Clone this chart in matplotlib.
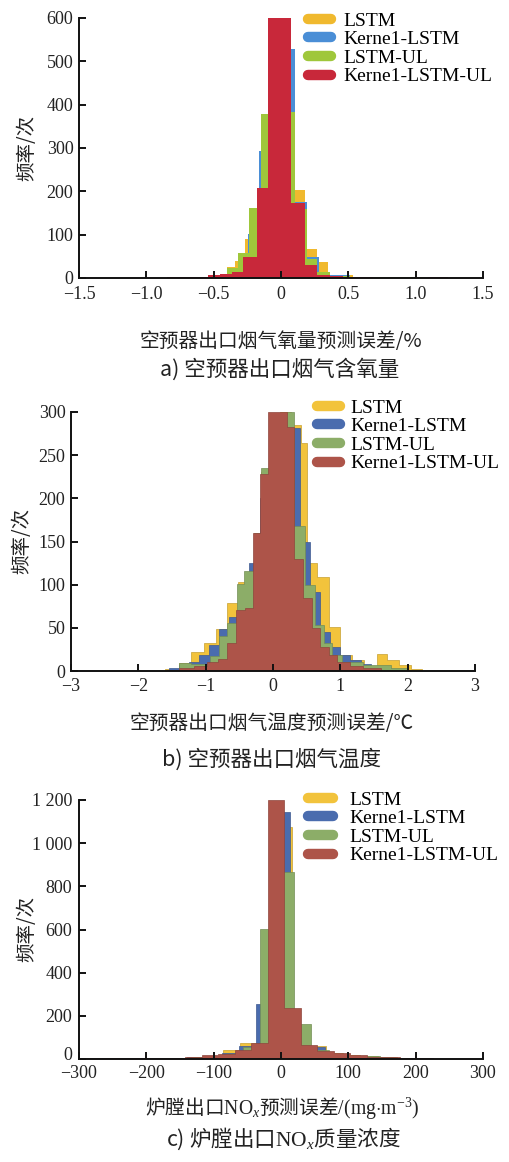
import matplotlib
matplotlib.use('Agg')
import matplotlib.pyplot as plt
import matplotlib.colors as mcolors
import matplotlib.transforms as mtransforms
from matplotlib.lines import Line2D

plt.rcParams['font.family'] = ['Liberation Serif', 'Noto Sans CJK SC']
plt.rcParams['mathtext.fontset'] = 'custom'
plt.rcParams['mathtext.rm'] = 'Liberation Serif'
plt.rcParams['mathtext.it'] = 'Liberation Serif:italic'
plt.rcParams['axes.unicode_minus'] = True

# ---------------- data ----------------
series_names = ['LSTM', 'Kerne1-LSTM', 'LSTM-UL', 'Kerne1-LSTM-UL']

# panel a: O2 prediction error (%)
a_lstm_edges = [-0.85, -0.65, -0.48, -0.40, -0.34, -0.27, -0.18, -0.094, -0.007, 0.072, 0.178, 0.265, 0.351, 0.438, 0.537, 0.686, 0.983, 1.243]
a_lstm_counts = [2, 3, 8, 25, 40, 90, 200, 590, 590, 204, 68, 37, 8, 8, 3, 2, 2]
a_klstm_edges = [-0.85, -0.478, -0.403, -0.322, -0.243, -0.161, -0.094, -0.007, 0.104, 0.191, 0.285, 0.364, 0.512, 0.686, 1.243]
a_klstm_counts = [2, 8, 20, 40, 102, 294, 573, 529, 176, 49, 15, 8, 3, 2]
a_lstmul_edges = [-0.85, -0.478, -0.403, -0.322, -0.235, -0.149, -0.022, 0.104, 0.191, 0.265, 0.364, 0.512, 1.243]
a_lstmul_counts = [2, 8, 22, 58, 162, 379, 382, 160, 45, 14, 5, 2]
a_klstmul_edges = [-0.849, -0.540, -0.453, -0.366, -0.280, -0.181, -0.094, -0.007, 0.072, 0.178, 0.265, 0.364, 0.463, 0.686, 1.094, 1.243]
a_klstmul_counts = [2, 8, 10, 14, 49, 208, 600, 600, 173, 29, 8, 4, 2, 0, 3]

# panel b: flue gas temperature prediction error (C)
b_lstm_edges = [-1.60, -1.40, -1.22, -1.03, -0.85, -0.68, -0.52, -0.36, -0.18, -0.05, 0.11, 0.26, 0.41, 0.51, 0.66, 0.83, 1.00, 1.18, 1.35, 1.55, 1.70, 1.87, 2.05, 2.22]
b_lstm_counts = [2, 9, 22, 32, 49, 79, 103, 115, 230, 290, 300, 285, 264, 125, 109, 51, 18, 13, 4, 20, 13, 7, 2]
b_klstm_edges = [-1.55, -1.40, -1.25, -1.10, -0.95, -0.80, -0.65, -0.50, -0.35, -0.20, -0.05, 0.10, 0.25, 0.40, 0.55, 0.70, 0.85, 1.00, 1.15, 1.30, 1.45, 1.60, 1.75, 1.90]
b_klstm_counts = [3, 7, 10, 18, 30, 49, 62, 100, 125, 200, 290, 295, 281, 149, 92, 45, 28, 18, 13, 8, 6, 4, 2]
b_lstmul_edges = [-1.40, -1.22, -0.93, -0.80, -0.68, -0.53, -0.43, -0.28, -0.18, -0.05, 0.08, 0.21, 0.31, 0.475, 0.62, 0.757, 0.881, 1.03, 1.33, 1.60, 1.75, 2.00]
b_lstmul_counts = [9, 8, 17, 40, 56, 101, 116, 160, 235, 295, 298, 300, 168, 100, 53, 32, 18, 11, 7, 7, 4]
b_klstmul_edges = [-1.58, -1.40, -1.17, -0.975, -0.82, -0.68, -0.55, -0.42, -0.30, -0.19, -0.07, 0.07, 0.21, 0.31, 0.45, 0.58, 0.70, 0.83, 0.955, 1.15, 1.33, 1.60]
b_klstmul_counts = [1, 4, 6, 11, 14, 33, 71, 73, 160, 228, 300, 300, 283, 130, 85, 50, 28, 18, 10, 6, 3]

# panel c: NOx prediction error (mg/m3)
c_lstm_edges = [-290, -264.5, -239, -213.5, -188, -162.5, -137, -111.5, -86, -60.5, -35, -9.5, 16, 41.5, 67, 92.5, 118, 143.5, 169, 194.5, 220]
c_lstm_counts = [2, 3, 3, 3, 4, 6, 9, 15, 42, 76, 250, 1076, 158, 60, 28, 18, 12, 8, 5, 3]
c_klstm_edges = [-292, -266.5, -241, -215.5, -190, -164.5, -139, -113.5, -88, -62.5, -37, -11.5, 14, 39.5, 65, 90.5, 116, 141.5, 167, 192.5, 218]
c_klstm_counts = [2, 4, 4, 3, 4, 6, 9, 14, 30, 60, 253, 1143, 142, 57, 25, 15, 10, 7, 5, 3]
c_lstmul_edges = [-285, -259.6, -234.2, -208.8, -183.4, -158, -132.6, -107.2, -81.8, -56.4, -31, -5.6, 19.8, 45.2, 70.6, 96, 121.4, 146.8, 172.2, 197.6, 223]
c_lstmul_counts = [2, 3, 3, 3, 4, 5, 8, 13, 25, 57, 601, 868, 160, 42, 22, 14, 14, 8, 5, 3]
c_klstmul_edges = [-314, -289.5, -265, -240.5, -216, -191.5, -167, -142.5, -118, -93.5, -69, -44.5, -20, 4.5, 29, 53.5, 78, 102.5, 127, 151.5, 176, 200.5, 225]
c_klstmul_counts = [5, 5, 3, 3, 3, 5, 6, 11, 18, 23, 42, 73, 1200, 235, 65, 37, 26, 18, 11, 8, 6, 5]

a_xticks = [-1.5, -1.0, -0.5, 0, 0.5, 1.0, 1.5]
a_xticklabels = ['\u22121.5', '\u22121.0', '\u22120.5', '0', '0.5', '1.0', '1.5']
a_yticks = [0, 100, 200, 300, 400, 500, 600]
b_xticks = [-3, -2, -1, 0, 1, 2, 3]
b_xticklabels = ['\u22123', '\u22122', '\u22121', '0', '1', '2', '3']
b_yticks = [0, 50, 100, 150, 200, 250, 300]
c_xticks = [-300, -200, -100, 0, 100, 200, 300]
c_xticklabels = ['\u2212300', '\u2212200', '\u2212100', '0', '100', '200', '300']
c_yticks = [0, 200, 400, 600, 800, 1000, 1200]
c_yticklabels = ['0', '200', '400', '600', '800', '1 000', '1 200']

ylabel_text = '频率/次'
a_xlabel = '空预器出口烟气氧量预测误差/%'
a_title = 'a) 空预器出口烟气含氧量'
b_xlabel = '空预器出口烟气温度预测误差/℃'
b_title = 'b) 空预器出口烟气温度'
c_xlabel = r'炉膛出口$\mathrm{NO}_x$预测误差$/(\mathrm{mg{\cdot}m^{-3}})$'
c_title = r'c) 炉膛出口$\mathrm{NO}_x$质量浓度'

colors_a = ['#F0B92E', '#4A8ED6', '#9FC73B', '#C8283A']
colors_bc = ['#F2C33C', '#4A6CAE', '#8CAD68', '#AD5449']

# ---------------- figure ----------------
W, H = 510, 1162
fig = plt.figure(figsize=(W / 100, H / 100), dpi=100)


def add_px_axes(left, top, right, bottom):
    return fig.add_axes([left / W, 1 - bottom / H, (right - left) / W, (bottom - top) / H])


def darker(c, f=0.82):
    r, g, b = mcolors.to_rgb(c)
    return (r * f, g * f, b * f)


def style_axes(ax, xpad):
    for s in ['top', 'right']:
        ax.spines[s].set_visible(False)
    for s in ['left', 'bottom']:
        ax.spines[s].set_linewidth(1.4)
        ax.spines[s].set_color('#111111')
    ax.tick_params(axis='both', direction='in', length=5, width=1.4, colors='#111111',
                   labelsize=13, labelcolor='#222222')
    ax.tick_params(axis='x', pad=xpad)
    ax.tick_params(axis='y', pad=4)


def draw_panel(ax, data, colors, edge):
    for (edges, counts), c in zip(data, colors):
        if edge:
            ax.stairs(counts, edges, fill=True, facecolor=c, edgecolor=darker(c), linewidth=0.5)
        else:
            ax.stairs(counts, edges, fill=True, color=c)


def add_legend(ax, colors, x, y, hl, tp):
    handles = [Line2D([0], [0], color=c, lw=7.5, solid_capstyle='round') for c in colors]
    ax.legend(handles, series_names, loc='upper left', bbox_to_anchor=(x / W, 1 - y / H),
              bbox_transform=fig.transFigure, frameon=False, fontsize=14,
              handlelength=hl, handletextpad=tp, labelspacing=0.05,
              borderpad=0, borderaxespad=0)


def ftext(x, y, s, size, rot=0, fam=None):
    kw = {}
    if fam is not None:
        kw['family'] = fam
    fig.text(x / W, 1 - y / H, s, ha='center', va='center', fontsize=size,
             rotation=rot, color='#222222', **kw)


# panel a
ax_a = add_px_axes(79, 18, 483, 278)
draw_panel(ax_a, [(a_lstm_edges, a_lstm_counts), (a_klstm_edges, a_klstm_counts),
                  (a_lstmul_edges, a_lstmul_counts), (a_klstmul_edges, a_klstmul_counts)],
           colors_a, edge=False)
ax_a.set_xlim(-1.5, 1.5)
ax_a.set_ylim(0, 600)
ax_a.set_xticks(a_xticks)
ax_a.set_xticklabels(a_xticklabels)
ax_a.set_yticks(a_yticks)
style_axes(ax_a, 6)
add_legend(ax_a, colors_a, 308, 12, 1.2, 0.6)

# panel b
ax_b = add_px_axes(71, 412, 475, 671)
draw_panel(ax_b, [(b_lstm_edges, b_lstm_counts), (b_klstm_edges, b_klstm_counts),
                  (b_lstmul_edges, b_lstmul_counts), (b_klstmul_edges, b_klstmul_counts)],
           colors_bc, edge=True)
ax_b.set_xlim(-3, 3)
ax_b.set_ylim(0, 300)
ax_b.set_xticks(b_xticks)
ax_b.set_xticklabels(b_xticklabels)
ax_b.set_yticks(b_yticks)
style_axes(ax_b, 5)
add_legend(ax_b, colors_bc, 317, 399, 1.2, 0.5)

# panel c
ax_c = add_px_axes(79, 800, 483, 1059)
draw_panel(ax_c, [(c_lstm_edges, c_lstm_counts), (c_klstm_edges, c_klstm_counts),
                  (c_lstmul_edges, c_lstmul_counts), (c_klstmul_edges, c_klstmul_counts)],
           colors_bc, edge=True)
ax_c.set_xlim(-300, 300)
ax_c.set_ylim(0, 1200)
ax_c.set_xticks(c_xticks)
ax_c.set_xticklabels(c_xticklabels)
ax_c.set_yticks(c_yticks)
ax_c.set_yticklabels(c_yticklabels)
style_axes(ax_c, 4.5)
ax_c.tick_params(axis='y', pad=5)
add_legend(ax_c, colors_bc, 308, 791, 1.29, 0.85)
# lift the "0" y label slightly, as in the reference, so it clears the x labels
zero_lab = ax_c.get_yticklabels()[0]
zero_lab.set_transform(zero_lab.get_transform() +
                       mtransforms.ScaledTranslation(0, 4 / 72, fig.dpi_scale_trans))

# labels
cjk = ['Noto Sans CJK SC', 'Liberation Serif']
ftext(27, 148, ylabel_text, 14, rot=90, fam=cjk)
ftext(281, 341, a_xlabel, 14.2, fam=cjk)
ftext(280, 369, a_title, 15.5, fam=cjk)

ftext(22, 541, ylabel_text, 14, rot=90, fam=cjk)
ftext(272, 723, b_xlabel, 14.2, fam=cjk)
ftext(272, 760, b_title, 15.5, fam=cjk)

ftext(27, 929, ylabel_text, 14, rot=90, fam=cjk)
ftext(282, 1108, c_xlabel, 14.2, fam=['Noto Sans CJK SC'])
ftext(283, 1139, c_title, 15.5, fam=['Noto Sans CJK SC'])

fig.savefig('out.png', dpi=100, facecolor='white')
